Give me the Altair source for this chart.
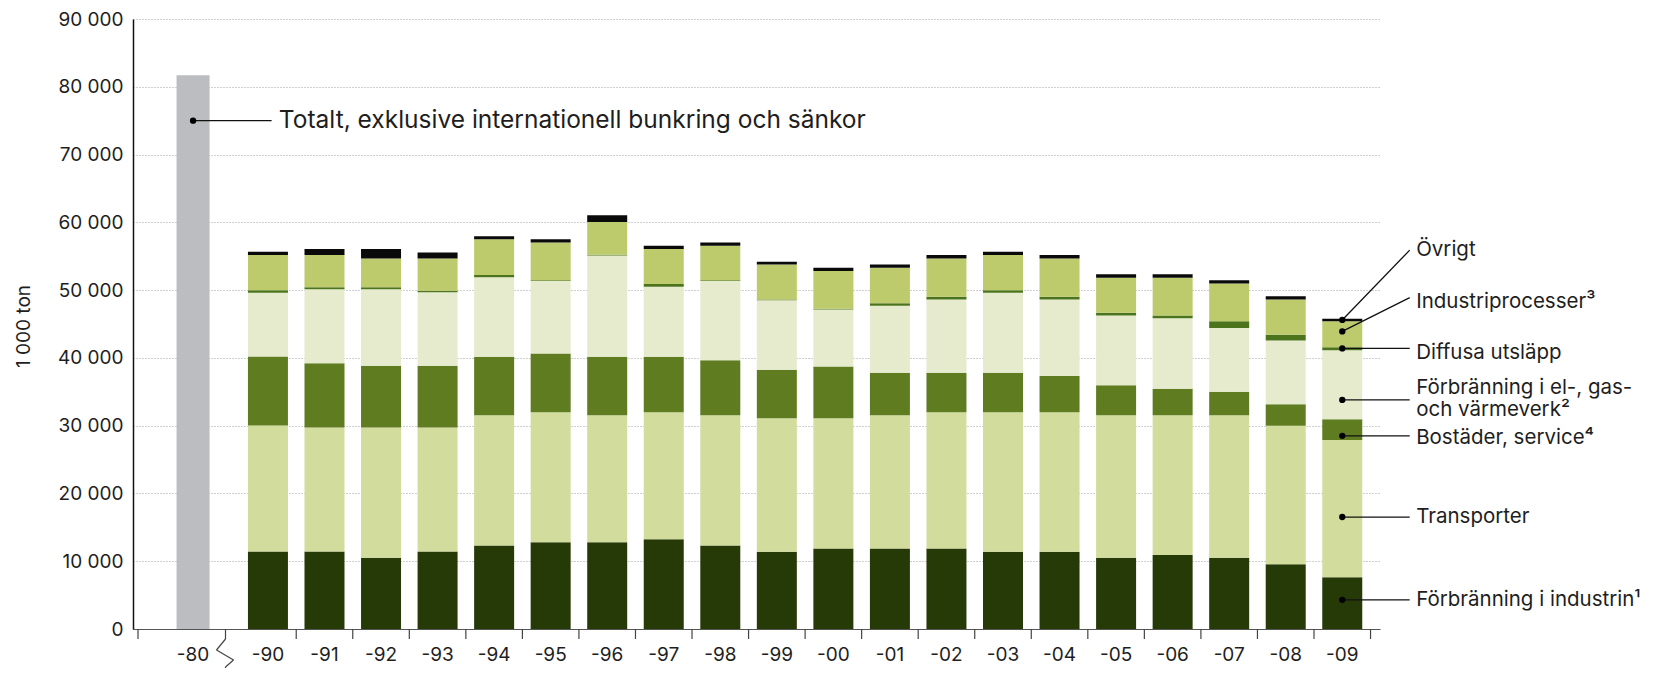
import altair as alt
import pandas as pd

# ---------------- data (1 000 ton) ----------------
years = ["-90", "-91", "-92", "-93", "-94", "-95", "-96", "-97", "-98", "-99",
         "-00", "-01", "-02", "-03", "-04", "-05", "-06", "-07", "-08", "-09"]
industri = [11450, 11450, 10510, 11450, 12320, 12810, 12810, 13250, 12320, 11390,
            11880, 11880, 11880, 11390, 11390, 10510, 10900, 10510, 9540, 7630]
transporter = [18570, 18280, 19220, 18280, 19230, 19180, 18740, 18740, 19230, 19720,
               19230, 19670, 20110, 20600, 20600, 21040, 20650, 21040, 20440, 20250]
bostader = [10180, 9490, 9100, 9100, 8600, 8660, 8600, 8160, 8110, 7130,
            7630, 6250, 5810, 5810, 5330, 4400, 3900, 3460, 3170, 3080]
elgas = [9400, 10910, 11300, 10870, 11740, 10710, 14960, 10330, 11700, 10270,
         8410, 9890, 10810, 11800, 11290, 10320, 10380, 9390, 9400, 10170]
diffusa = [380, 290, 290, 200, 350, 100, 90, 440, 90, 90,
           100, 380, 400, 380, 400, 390, 440, 990, 880, 440]
industriprocesser = [5190, 4750, 4260, 4780, 5280, 5560, 4860, 5130, 5090, 5190,
                     5570, 5240, 5670, 5190, 5670, 5180, 5570, 5570, 5180, 3820]
ovrigt = [490, 880, 1370, 870, 440, 500, 980, 490, 480, 400,
          490, 480, 490, 490, 490, 490, 490, 490, 490, 390]
year_1980 = "-80"
total_1980 = 81700

series_names = ["Förbränning i industrin", "Transporter", "Bostäder, service",
                "Förbränning i el-, gas- och värmeverk", "Diffusa utsläpp",
                "Industriprocesser", "Övrigt"]
series_values = [industri, transporter, bostader, elgas, diffusa, industriprocesser, ovrigt]
series_colors = ["#263a07", "#d2dc9c", "#5f7d20", "#e6ebcd", "#4b741c", "#bdcb6c", "#0a0a0a"]

y_ticks = list(range(0, 90001, 10000))

# annotation texts and anchor values
total_label = "Totalt, exklusive internationell bunkring och sänkor"
total_anchor = 75000
right_labels = ["Övrigt", "Industriprocesser³", "Diffusa utsläpp",
                "Förbränning i el-, gas-\noch värmeverk²", "Bostäder, service⁴",
                "Transporter", "Förbränning i industrin¹"]
right_label_y = [55900, 48300, 40700, 35600, 28250, 16520, 4300]
dot_y = [45600, 43900, 41400, 33800, 28500, 16520, 4300]
leader_end_y = [55900, 48900, 41400, 33800, 28500, 16520, 4300]

# ---------------- layout ----------------
TOP = 11
W, H = 1247, 613 - (TOP - 8)
STEP = 57.0
X_LO = -(264 - 133) / STEP
X_HI = X_LO + W / STEP
X_80 = (188.5 - 264) / STEP
X_LINE_END = (1415 - 264) / STEP
X_TEXT = (1421.5 - 264) / STEP
X_TOTAL_LINE_END = (267.7 - 264) / STEP
X_TOTAL_TEXT = (275 - 264) / STEP
FONT = "Inter"
TXT = "#1e1e1e"

xs = alt.Scale(domain=[X_LO, X_HI], nice=False, zero=False)
ys = alt.Scale(domain=[0, 90000], nice=False, zero=True)

rows = []
for i, yr in enumerate(years):
    for k, (name, vals) in enumerate(zip(series_names, series_values)):
        rows.append({"xv": i, "year": yr, "serie": name, "ord": k, "value": vals[i]})
df = pd.DataFrame(rows)

bars = alt.Chart(df).mark_bar(size=40).encode(
    x=alt.X("xv:Q", scale=xs, title=None,
            axis=alt.Axis(labels=False, ticks=False, grid=False, domainColor="#555",
                          domainWidth=1.2)),
    y=alt.Y("value:Q", stack="zero", scale=ys, title="1 000 ton",
            axis=alt.Axis(values=y_ticks, labelExpr="replace(format(datum.value, ','), ',', ' ')",
                          ticks=False, labelPadding=10, labelFont=FONT, labelFontSize=19,
                          labelColor=TXT, domainColor="#111", domainWidth=1.5,
                          grid=True, gridColor="#a0a0a0", gridDash=[1, 2], gridWidth=1,
                          titleFont=FONT, titleFontSize=19,
                          titleFontWeight="normal", titleColor=TXT, titleAngle=270,
                          titleX=-110, titleY=307, titleAlign="center",
                          titleBaseline="middle")),
    color=alt.Color("serie:N", scale=alt.Scale(domain=series_names, range=series_colors),
                    legend=None),
    order=alt.Order("ord:Q", sort="ascending"),
)

df80 = pd.DataFrame({"xv": [X_80], "value": [total_1980]})
bar80 = alt.Chart(df80).mark_bar(size=33, color="#bcbdc1").encode(
    x=alt.X("xv:Q", scale=xs),
    y=alt.Y("value:Q", scale=ys),
)

# x labels
xlab = pd.DataFrame({"xv": [X_80] + list(range(len(years))), "lab": [year_1980] + years})
xlabels = alt.Chart(xlab).mark_text(font=FONT, fontSize=19, color=TXT, baseline="middle",
                                    align="center").encode(
    x=alt.X("xv:Q", scale=xs),
    y=alt.value(H + 26),
    text="lab:N",
)

# x ticks between bars
tick_pos = [X_LO] + [i + 0.5 for i in range(len(years))]
xticks = alt.Chart(pd.DataFrame({"xv": tick_pos})).mark_rule(color="#444", strokeWidth=1.2).encode(
    x=alt.X("xv:Q", scale=xs),
    y=alt.value(H),
    y2=alt.value(H + 10),
)

# axis break symbol
bx = 92.5
brk_segs = [
    (bx, H, bx, H + 10),
    (bx, H + 10, bx - 9, H + 21),
    (bx - 9, H + 21, bx + 8, H + 31),
    (bx + 8, H + 31, bx, H + 38),
    (bx, H + 38, bx, H + 50),
]
brk_layers = [
    alt.Chart(pd.DataFrame({"a": [0]})).mark_rule(color="#444", strokeWidth=1.2).encode(
        x=alt.value(a), y=alt.value(b), x2=alt.value(c), y2=alt.value(d))
    for (a, b, c, d) in brk_segs
]

# total 1980 annotation
tot = pd.DataFrame({"xv": [X_80], "x1": [X_TOTAL_LINE_END], "xt": [X_TOTAL_TEXT],
                    "value": [total_anchor], "t": [total_label]})
tot_line = alt.Chart(tot).mark_rule(color="#111", strokeWidth=1.3).encode(
    x=alt.X("xv:Q", scale=xs), x2="x1:Q",
    y=alt.Y("value:Q", scale=ys))
tot_dot = alt.Chart(tot).mark_circle(color="#000", size=40, opacity=1).encode(
    x=alt.X("xv:Q", scale=xs), y=alt.Y("value:Q", scale=ys))
tot_text = alt.Chart(tot).mark_text(font=FONT, fontSize=24.5, color=TXT, align="left",
                                    baseline="middle").encode(
    x=alt.X("xt:Q", scale=xs), y=alt.Y("value:Q", scale=ys), text="t:N")

# right-hand labels
last = len(years) - 1
lead = pd.DataFrame({"xv": [last] * len(dot_y), "x1": [X_LINE_END] * len(dot_y),
                     "value": dot_y, "y1": leader_end_y})
lead_lines = alt.Chart(lead).mark_rule(color="#111", strokeWidth=1.3).encode(
    x=alt.X("xv:Q", scale=xs), x2="x1:Q",
    y=alt.Y("value:Q", scale=ys), y2="y1:Q")
lead_dots = alt.Chart(lead).mark_circle(color="#000", size=40, opacity=1).encode(
    x=alt.X("xv:Q", scale=xs), y=alt.Y("value:Q", scale=ys))
rl = pd.DataFrame({"xt": [X_TEXT] * len(right_labels), "value": right_label_y, "t": right_labels})
rl_text = alt.Chart(rl).mark_text(font=FONT, fontSize=20.5, color=TXT, align="left",
                                  baseline="middle", lineBreak="\n", lineHeight=22).encode(
    x=alt.X("xt:Q", scale=xs), y=alt.Y("value:Q", scale=ys), text="t:N")

chart = alt.layer(bars, bar80, xticks, *brk_layers, xlabels, tot_line, tot_dot, tot_text,
                  lead_lines, lead_dots, rl_text).properties(
    width=W, height=H,
    autosize=alt.AutoSizeParams(type="none"),
    padding={"left": 125, "top": TOP, "right": 278, "bottom": 39},
    background="white",
).configure_view(stroke=None)

chart.save("out.html", embed_options={"renderer": "svg", "actions": False})
